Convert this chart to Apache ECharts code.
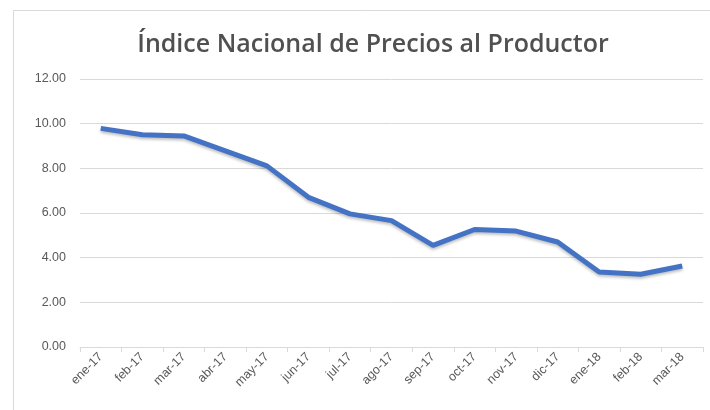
<!DOCTYPE html>
<html><head><meta charset="utf-8">
<script src="https://cdn.jsdelivr.net/npm/echarts@6/dist/echarts.min.js"></script>
<style>html,body{margin:0;padding:0;background:#fff}#c{width:710px;height:410px}</style>
</head><body><div id="c"></div>
<script>
const titleText = 'Índice Nacional de Precios al Productor';
const categories = ['ene-17','feb-17','mar-17','abr-17','may-17','jun-17','jul-17','ago-17','sep-17','oct-17','nov-17','dic-17','ene-18','feb-18','mar-18'];
const values = [9.79, 9.50, 9.45, 8.78, 8.11, 6.70, 5.96, 5.66, 4.55, 5.26, 5.19, 4.70, 3.36, 3.26, 3.63];
const yMin = 0, yMax = 12, yStep = 2;

const chart = echarts.init(document.getElementById('c'), null, {renderer:'canvas'});
chart.setOption({
  animation: false,
  backgroundColor: '#fff',
  graphic: [{type:'rect', shape:{x:13.5,y:10.5,width:720,height:420}, style:{fill:'none', stroke:'#d9d9d9', lineWidth:1}, z:-1}],
  title: {text: titleText, left: 368, top: 27, textAlign:'center',
    textStyle:{fontFamily:'Open Sans', fontSize:25, fontWeight:600, color:'#505050'}},
  grid: {left: 80, right: 7, top: 79, bottom: 63},
  xAxis: {type:'category', data: categories, boundaryGap:true,
    axisLine:{lineStyle:{color:'#d9d9d9', width:1}},
    axisTick:{show:true, length:5, lineStyle:{color:'#d9d9d9'}},
    axisLabel:{rotate:45, color:'#595959', fontFamily:'Liberation Sans', fontSize:12.5, margin:8}},
  yAxis: {type:'value', min:yMin, max:yMax, interval:yStep,
    axisLine:{show:false}, axisTick:{show:false},
    splitLine:{lineStyle:{color:'#d9d9d9', width:1}},
    axisLabel:{color:'#595959', fontFamily:'Liberation Sans', fontSize:12.5, margin:14,
      formatter: v => v.toFixed(2)}},
  series: [{type:'line', data: values, symbol:'none', smooth:false,
    lineStyle:{color:'#4472C4', width:5, shadowColor:'rgba(0,0,0,0.25)', shadowBlur:3, shadowOffsetY:2},
    itemStyle:{color:'#4472C4'}}]
});
</script></body></html>
